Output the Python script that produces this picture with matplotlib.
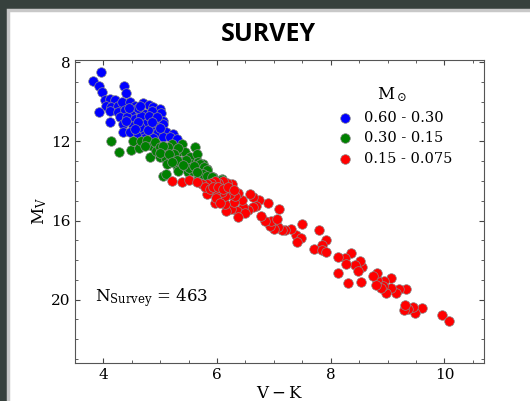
import matplotlib
matplotlib.use("Agg")
import matplotlib.pyplot as plt
from matplotlib.patches import Rectangle

plt.rcParams['font.family'] = ['DejaVu Serif']
plt.rcParams['mathtext.fontset'] = 'dejavuserif'

# --- DATA (V-K, M_V) ---
blue_vk = [3.95, 3.82, 3.92, 3.98, 4.36, 4.39, 4.02, 4.11, 4.20, 4.05, 4.14, 4.26, 4.32, 4.46, 4.55,
           4.70, 4.80, 4.87, 4.99, 3.93, 4.11, 4.26, 4.38, 4.49, 4.64, 4.73, 4.85, 5.01, 4.29, 4.41,
           4.55, 4.70, 4.79, 4.93, 5.05, 4.11, 4.35, 4.52, 4.67, 4.90, 5.05, 4.35, 4.46, 4.61, 4.73,
           4.85, 4.96, 5.11, 5.23, 4.73, 4.87, 5.05, 5.17, 5.29, 4.67, 4.73, 4.64, 4.79, 4.60, 4.45,
           4.80, 4.95, 4.40, 4.60, 4.85, 4.55, 5.00, 4.65]
blue_mv = [8.47, 8.93, 9.18, 9.52, 9.18, 9.57, 9.90, 9.85, 9.90, 10.19, 10.28, 10.19, 10.03, 10.03, 10.19,
           10.08, 10.16, 10.28, 10.36, 10.53, 10.45, 10.53, 10.41, 10.61, 10.45, 10.61, 10.45, 10.58, 10.78, 10.78,
           10.87, 10.87, 10.92, 10.95, 10.95, 11.04, 11.12, 11.21, 11.21, 11.21, 11.12, 11.54, 11.54, 11.63, 11.54,
           11.46, 11.54, 11.54, 11.63, 11.83, 11.83, 11.76, 11.80, 11.88, 10.71, 11.12, 11.29, 11.42, 10.30, 10.30,
           10.70, 10.75, 10.95, 11.00, 11.00, 11.40, 11.35, 10.20]

green_vk = [4.14, 4.28, 4.48, 4.52, 4.62, 4.67, 4.77, 4.82, 4.85, 4.90, 4.93, 4.99, 4.99, 5.05, 5.11,
            5.12, 5.05, 5.11, 5.17, 5.20, 5.23, 5.29, 5.32, 5.35, 5.38, 5.40, 5.43, 5.46, 5.49, 5.52,
            5.55, 5.58, 5.61, 5.64, 5.67, 5.70, 5.73, 5.76, 5.82, 5.84, 5.90, 5.67, 6.08, 5.14, 5.32,
            5.05, 5.93, 5.70, 5.77, 5.82, 5.75, 5.82, 5.91, 6.07, 5.00, 5.25, 5.45, 5.30, 5.50, 5.60,
            5.15, 5.40, 5.65, 5.20, 4.73]
green_mv = [11.96, 12.56, 12.42, 12.00, 12.35, 11.96, 11.93, 12.77, 12.22, 12.05, 12.47, 12.30, 12.81, 12.56, 12.89,
            13.14, 13.74, 13.65, 12.47, 12.13, 12.81, 13.23, 13.48, 12.47, 12.13, 12.98, 12.56, 13.32, 13.57, 12.81,
            13.14, 13.48, 12.30, 12.64, 13.06, 13.40, 13.65, 13.14, 13.40, 13.65, 13.82, 13.90, 13.90, 12.30, 12.33,
            12.22, 13.79, 13.13, 13.32, 13.45, 13.65, 13.74, 13.82, 13.94, 12.60, 12.65, 12.95, 12.95, 13.35, 13.25,
            12.65, 13.20, 13.55, 13.05, 12.22]

red_vk = [9.96, 10.09, 9.60, 9.48, 9.44, 9.36, 9.29, 9.31, 9.33, 9.20, 9.14, 9.06, 9.06, 8.98, 8.93,
          8.92, 8.88, 8.82, 8.80, 8.82, 8.74, 8.55, 8.51, 8.43, 8.48, 8.53, 8.36, 8.25, 8.13, 8.27,
          8.13, 8.31, 7.92, 7.84, 7.71, 7.84, 7.92, 7.79, 7.49, 7.39, 7.48, 7.41, 7.30, 7.20, 7.15,
          7.08, 7.00, 6.94, 6.95, 6.84, 7.05, 7.09, 6.77, 6.89, 6.73, 6.63, 6.58, 6.69, 6.64, 6.55,
          6.46, 6.35, 6.24, 6.16, 6.49, 6.37, 6.43, 6.29, 6.14, 5.96, 6.37, 6.32, 6.23, 6.14, 6.08,
          5.96, 5.82, 6.27, 6.17, 6.11, 6.02, 5.96, 5.90, 5.82, 5.73, 5.79, 5.87, 5.93, 6.02, 6.11,
          6.20, 6.29, 5.21, 5.38, 5.51, 5.65, 5.99, 6.05]
red_mv = [20.76, 21.09, 20.42, 20.65, 20.37, 20.49, 20.52, 20.25, 19.44, 19.48, 19.68, 18.90, 19.43, 19.67, 19.08,
          19.32, 19.42, 19.02, 19.28, 18.65, 18.82, 18.36, 18.06, 18.26, 18.55, 19.09, 17.64, 17.90, 17.86, 18.18,
          18.65, 19.17, 16.99, 17.25, 17.43, 17.51, 17.58, 16.50, 16.18, 16.74, 16.86, 17.11, 16.42, 16.46, 16.47,
          16.32, 16.41, 16.27, 16.02, 16.02, 15.93, 15.42, 15.76, 15.14, 14.97, 14.80, 14.66, 15.26, 15.34, 15.46,
          15.34, 15.51, 15.42, 15.51, 15.63, 15.80, 14.97, 15.05, 15.17, 15.12, 14.63, 14.75, 14.66, 14.75, 14.58,
          14.63, 14.66, 14.13, 14.08, 13.99, 14.11, 13.99, 14.08, 14.13, 14.16, 14.33, 14.41, 14.29, 14.33, 14.41,
          14.29, 14.46, 13.99, 14.03, 13.95, 14.04, 14.84, 15.09]

labels = ['0.60 - 0.30', '0.30 - 0.15', '0.15 - 0.075']
colors = ['#0000ff', '#008000', '#ff0000']
n_survey = 463

# --- FIGURE ---
fig = plt.figure(figsize=(5.30, 4.01), dpi=100, facecolor='#37413d')
panel = Rectangle((0.015, -0.01), 1.0, 0.985, transform=fig.transFigure,
                  facecolor='white', edgecolor='#c8c8c8', linewidth=2.5, zorder=-10)
fig.patches.append(panel)

ax = fig.add_axes([0.1415, 0.0948, 0.772, 0.755])
ax.set_zorder(1)

for vk, mv, lab, col in zip([blue_vk, green_vk, red_vk], [blue_mv, green_mv, red_mv], labels, colors):
    ax.scatter(vk, mv, s=48, c=col, edgecolors='#8a8a8a', linewidths=0.5, label=lab, zorder=3)

ax.set_xlim(3.5, 10.7)
ax.set_ylim(23.2, 7.9)
ax.set_xticks([4, 6, 8, 10])
ax.set_yticks([8, 12, 16, 20])
ax.set_xticks([x * 0.5 for x in range(7, 22)], minor=True)
ax.set_yticks(list(range(8, 24)), minor=True)
ax.tick_params(which='both', direction='in', top=True, right=True, labelsize=11, color='#444444')
ax.tick_params(which='major', length=3.6)
ax.tick_params(which='minor', length=2)
for sp in ax.spines.values():
    sp.set_color('#555555')

ax.set_xlabel(r'$\mathrm{V-K}$', fontsize=12, labelpad=2)
ax.set_ylabel(r'$\mathrm{M_V}$', fontsize=12, labelpad=1)

ax.text(3.85, 19.9, r'$\mathrm{N_{Survey}}$ = ' + str(n_survey), fontsize=12, va='center')

leg = ax.legend(loc='upper right', bbox_to_anchor=(0.955, 0.96), frameon=False, fontsize=10.5,
                title=r'$\mathrm{M_\odot}$', title_fontsize=12, handletextpad=0.3,
                labelspacing=0.45, markerscale=1.0)

fig.text(0.506, 0.913, 'SURVEY', fontsize=18, fontweight='bold', family='Open Sans',
         ha='center', va='center')

fig.savefig('out.png', dpi=100, facecolor=fig.get_facecolor())
